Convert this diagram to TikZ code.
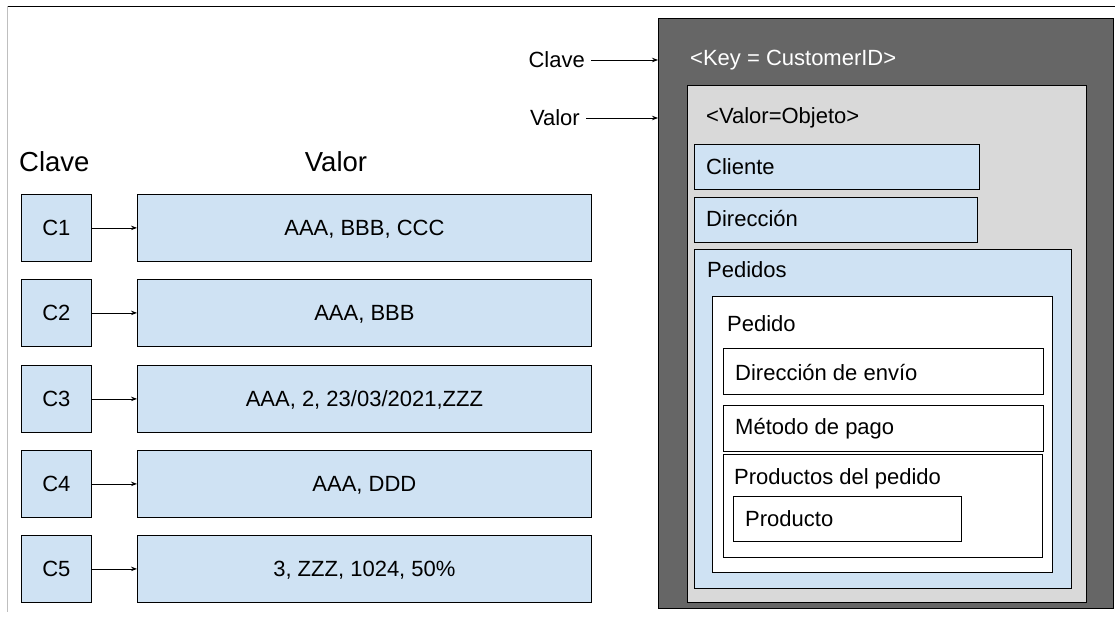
\documentclass[tikz,border=0pt]{standalone}
\usepackage{fontspec}
\setmainfont{Liberation Sans}
\usetikzlibrary{arrows.meta}

\definecolor{azulclaro}{HTML}{CFE2F3}
\definecolor{grisoscuro}{HTML}{666666}
\definecolor{grisclaro}{HTML}{D9D9D9}

\tikzset{
  caja/.style={draw=black,line width=0.8pt,anchor=north west,inner sep=0pt},
  celda/.style={caja,fill=azulclaro,text depth=0pt},
  blanca/.style={caja,fill=white},
  rotulo/.style={anchor=west,inner sep=0pt},
  flecha/.style={line width=0.8pt,-{Stealth[length=6pt,width=4.5pt]}}
}

\begin{document}
\begin{tikzpicture}[x=1pt,y=-1pt,font=\fontsize{22pt}{26pt}\selectfont]
    \useasboundingbox(0,0)rectangle(1115,619);
    % marco de la imagen
    \draw[line width=1pt](7,6)--(1115,6);
    \draw[color=black!25,line width=1pt](7,6)--(7,612);
    % tabla clave-valor
    \node[rotulo,font=\fontsize{27.5pt}{32pt}\selectfont](hclave)at(19,162){Clave};
    \node[inner sep=0pt,font=\fontsize{27.5pt}{32pt}\selectfont](hvalor)at(336,162){Valor};
    \foreach \i/\y/\txt in {1/194/{AAA, BBB, CCC},2/279/{AAA, BBB},3/365/{AAA, 2, 23/03/2021,ZZZ},4/450/{AAA, DDD},5/535/{3, ZZZ, 1024, 50\%}}{
        \node[celda,minimum width=70pt,minimum height=67pt](c\i)at(21,\y){C\i};
        \node[celda,minimum width=454pt,minimum height=67pt](v\i)at(137,\y){\txt};
        \draw[flecha](c\i)--(v\i);
    }
    % objeto del cliente
    \node[caja,fill=grisoscuro,minimum width=455pt,minimum height=590pt](objeto)at(658,18){};
    \node[rotulo,text=white](key)at(690,60){<Key = CustomerID>};
    \node[caja,fill=grisclaro,minimum width=399pt,minimum height=517pt](valor)at(687,85){};
    \node[rotulo](valobj)at(706,118){<Valor=Objeto>};
    \node[celda,minimum width=285pt,minimum height=45pt](cliente)at(694,144){};
    \node[rotulo]at(706,167){Cliente};
    \node[celda,minimum width=283pt,minimum height=45pt](direccion)at(694,197){};
    \node[rotulo]at(706,219){Dirección};
    \node[celda,minimum width=377pt,minimum height=339pt](pedidos)at(694,249){};
    \node[rotulo]at(707,270){Pedidos};
    \node[blanca,minimum width=340pt,minimum height=276pt](pedido)at(712,296){};
    \node[rotulo]at(727,324){Pedido};
    \node[blanca,minimum width=320pt,minimum height=46pt](envio)at(723,348){};
    \node[rotulo]at(735,372){Dirección de envío};
    \node[blanca,minimum width=320pt,minimum height=46pt](pago)at(723,405){};
    \node[rotulo]at(735,429){Método de pago};
    \node[blanca,minimum width=319pt,minimum height=103pt](productos)at(723,454){};
    \node[rotulo]at(734,479){Productos del pedido};
    \node[blanca,minimum width=228pt,minimum height=45pt](producto)at(733,496){};
    \node[rotulo]at(745,519){Producto};
    % etiquetas de la izquierda
    \node[anchor=east,inner sep=6pt](lclave)at(591,60){Clave};
    \node[anchor=east,inner sep=6pt](lvalor)at(586,118){Valor};
    \draw[flecha](lclave)--(lclave-|objeto.west);
    \draw[flecha](lvalor)--(lvalor-|objeto.west);
\end{tikzpicture}
\end{document}
